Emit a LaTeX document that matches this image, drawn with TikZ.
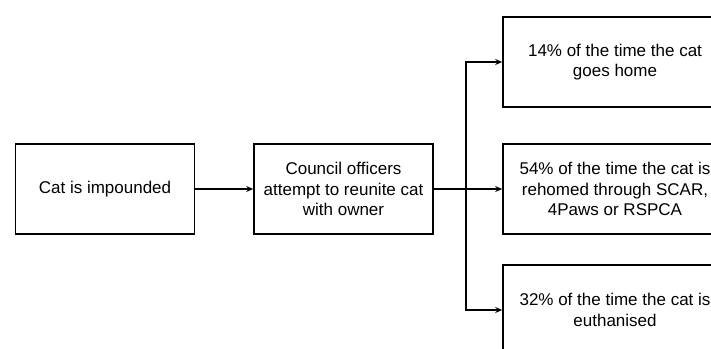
\documentclass[tikz,border=0pt]{standalone}
\usepackage{fontspec}
\setmainfont{Liberation Sans}
\usetikzlibrary{arrows.meta}
\begin{document}
\begin{tikzpicture}[x=1pt,y=-1pt,
    box/.style={draw,line width=1.6pt,minimum width=179pt,minimum height=90pt,
                align=center,inner sep=0pt,font=\fontsize{17}{20.5}\selectfont},
    wide/.style={box,minimum width=224pt},
    link/.style={line width=1.2pt,-{Stealth[length=7pt,width=6pt]}}]
    \useasboundingbox (0,0) rectangle (711,348);
    \node[box]  (impound) at (105,189)   {Cat is impounded};
    \node[box]  (council) at (343.5,189) {Council officers\\attempt to reunite cat\\with owner};
    \node[wide] (home)    at (615,62)    {14\% of the time the cat\\goes home};
    \node[wide] (rehome)  at (615,189)   {54\% of the time the cat is\\rehomed through SCAR,\\4Paws or RSPCA};
    \node[wide] (euth)    at (615,310)   {32\% of the time the cat is\\euthanised};
    \coordinate (split) at (466,189);
    \draw[link] (impound) -- (council);
    \draw[line width=1.6pt] (council) -- (split);
    \draw[link] (split) |- (home);
    \draw[link] (split) -- (rehome);
    \draw[link] (split) |- (euth);
\end{tikzpicture}
\end{document}
